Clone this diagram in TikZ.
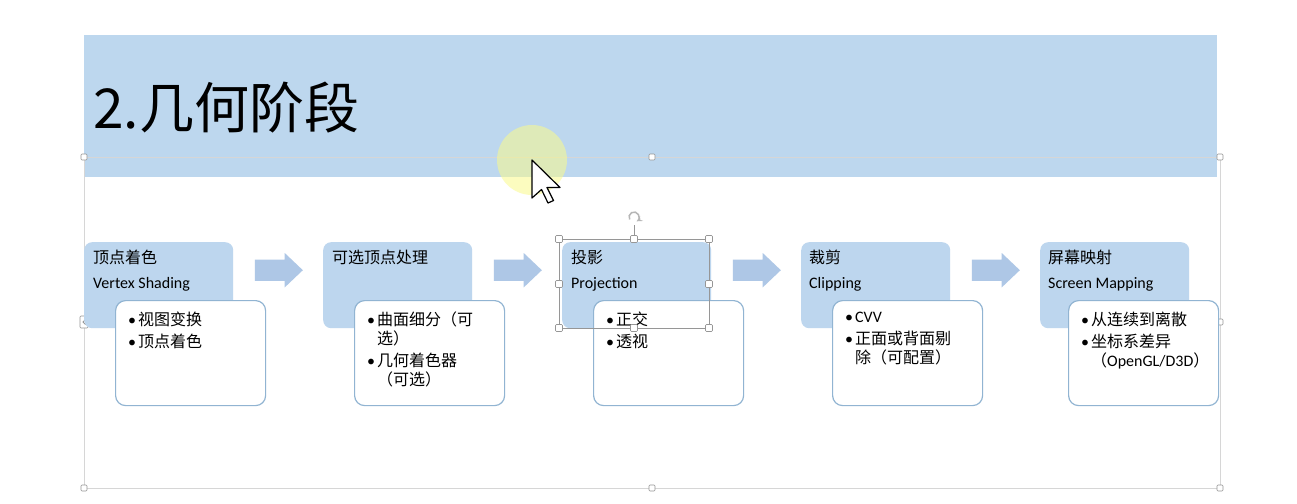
\documentclass[tikz,border=0pt]{standalone}
\usepackage{fontspec}
\setmainfont{Carlito}
\newfontfamily\cjk{Noto Sans CJK SC}
\usepackage{xcolor}
\usetikzlibrary{shapes.arrows,calc}
\definecolor{bandcol}{RGB}{189,215,238}
\definecolor{stagecol}{RGB}{189,214,238}
\definecolor{arrowcol}{RGB}{174,199,230}
\definecolor{edgecol}{RGB}{145,180,210}
\definecolor{framecol}{RGB}{214,214,214}
\definecolor{handlecol}{RGB}{150,150,150}
\definecolor{glowcol}{RGB}{250,250,140}

\tikzset{
  stagebox/.style={fill=stagecol, rounded corners=8pt, minimum width=149pt,
    minimum height=86pt, inner sep=0pt, anchor=north west},
  detailbox/.style={fill=white, draw=edgecol, line width=1.2pt, rounded corners=10pt,
    minimum width=150pt, minimum height=105pt, inner sep=0pt, anchor=north west},
  stagename/.style={anchor=base west, inner sep=0pt, font=\fontsize{16}{19}\selectfont},
  detailtext/.style={anchor=north west, inner sep=0pt, align=left,
    font=\fontsize{16}{19}\selectfont\cjk},
  flowarrow/.style={single arrow, fill=arrowcol, minimum height=48pt,
    single arrow head extend=6.5pt, single arrow tip angle=87, inner sep=0pt},
  handle/.style={draw=handlecol, fill=white, line width=0.6pt, minimum size=6pt,
    inner sep=0pt, rounded corners=1pt},
}
\newcommand{\bul}[1]{\makebox[10pt][l]{\rmfamily\textbullet}#1}
\newcommand{\cont}[1]{\hspace*{10pt}#1}
\newcommand{\shaft}{\rule{0pt}{21pt}}

\begin{document}
\begin{tikzpicture}[x=1pt, y=-1pt]
  \fill[white] (0,0) rectangle (1297,503);
  \useasboundingbox (0,0) rectangle (1297,503);

  % title band
  \fill[bandcol] (84,35) rectangle (1217,177);
  \node[anchor=base west, inner sep=0pt, font=\fontsize{55}{60}\selectfont\cjk] (title)
    at (93,128) {2.几何阶段};

  % placeholder frame
  \draw[framecol, line width=1pt] (84,157) rectangle (1220,488);
  \foreach \p [count=\i] in {(84,157),(652,157),(1220,157),(1220,322),
      (84,488),(652,488),(1220,488)}
    \node[handle] (fh\i) at \p {};
  \node[handle, minimum height=12pt, minimum width=8pt] (fhl) at (84,322) {};
  \draw[handlecol, line width=0.8pt] ($(fhl)+(1.5,-2.5)$) -- ++(-2.5,2.5) -- ++(2.5,2.5);

  % stages
  \node[stagebox] (shade) at (84,242) {};
  \node[stagename] at ($(shade.north west)+(9,21)$) {\cjk 顶点着色};
  \node[stagename] at ($(shade.north west)+(9,46)$) {Vertex Shading};
  \node[detailbox] (shadeD) at (115,300) {};
  \node[detailtext] at ($(shadeD.north west)+(13,12)$)
    {\bul{视图变换}\\[3pt]\bul{顶点着色}};

  \node[stagebox] (optv) at (323,242) {};
  \node[stagename] at ($(optv.north west)+(9,21)$) {\cjk 可选顶点处理};
  \node[detailbox] (optvD) at (354,300) {};
  \node[detailtext] at ($(optvD.north west)+(13,12)$)
    {\bul{曲面细分（可}\\\cont{选）}\\[3pt]\bul{几何着色器}\\\cont{（可选）}};

  \node[stagebox] (proj) at (562,242) {};
  \node[stagename] at ($(proj.north west)+(9,21)$) {\cjk 投影};
  \node[stagename] at ($(proj.north west)+(9,46)$) {Projection};
  \node[detailbox] (projD) at (593,300) {};
  \node[detailtext] at ($(projD.north west)+(13,12)$)
    {\bul{正交}\\[3pt]\bul{透视}};

  \node[stagebox] (clip) at (801,242) {};
  \node[stagename] at ($(clip.north west)+(8,21)$) {\cjk 裁剪};
  \node[stagename] at ($(clip.north west)+(8,46)$) {Clipping};
  \node[detailbox] (clipD) at (832,300) {};
  \node[detailtext] at ($(clipD.north west)+(13,12)$)
    {\bul{\rmfamily CVV}\\[3pt]\bul{正面或背面剔}\\\cont{除（可配置）}};

  \node[stagebox] (smap) at (1040,242) {};
  \node[stagename] at ($(smap.north west)+(8,21)$) {\cjk 屏幕映射};
  \node[stagename] at ($(smap.north west)+(8,46)$) {Screen Mapping};
  \node[detailbox] (smapD) at (1068,300) {};
  \node[detailtext] at ($(smapD.north west)+(13,12)$)
    {\bul{从连续到离散}\\[3pt]\bul{坐标系差异}\\\cont{（{\rmfamily OpenGL/D3D}）}};

  % block arrows
  \node[flowarrow] (a1) at ($(shade.east)!0.5!(optv.west)+(-5,-15)$) {\shaft};
  \node[flowarrow] (a2) at ($(optv.east)!0.5!(proj.west)+(-5,-15)$) {\shaft};
  \node[flowarrow] (a3) at ($(proj.east)!0.5!(clip.west)+(-5,-15)$) {\shaft};
  \node[flowarrow] (a4) at ($(clip.east)!0.5!(smap.west)+(-5,-15)$) {\shaft};

  % selection on the projection box
  \draw[handlecol, line width=0.8pt] (559,239) rectangle (709,328);
  \draw[handlecol, line width=0.8pt] (634,239) -- (634,225);
  \draw[handlecol!70, line width=1.5pt, -stealth] (629.7,219.5) arc[start angle=150,
    end angle=420, radius=5];
  \foreach \p [count=\i] in {(559,239),(634,239),(709,239),(559,284),(709,284),
      (559,328),(634,328),(709,328)}
    \node[handle, minimum size=7pt] (sh\i) at \p {};

  % pointer
  \fill[glowcol, opacity=0.55] (532,160) circle[radius=35];
  \filldraw[fill=white, draw=black, line width=1.2pt, line join=round]
    (532,160) -- ++(0,38) -- ++(9.5,-8.5) -- ++(6.5,13.5) -- ++(5.5,-2.5)
    -- ++(-6.5,-13) -- ++(13,0) -- cycle;
\end{tikzpicture}
\end{document}
